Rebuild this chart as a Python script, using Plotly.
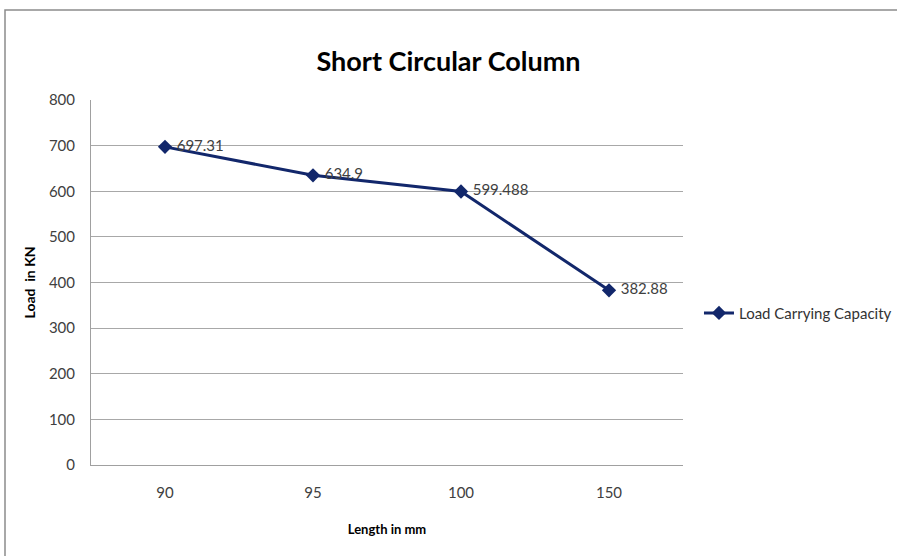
import plotly.graph_objects as go

categories = ["90", "95", "100", "150"]
load_values = [697.31, 634.9, 599.488, 382.88]
label_texts = ["697.31", "634.9", "599.488", "382.88"]
y_ticks = [0, 100, 200, 300, 400, 500, 600, 700, 800]

navy = "#12276B"
font_family = "Lato, 'Open Sans', 'DejaVu Sans', sans-serif"

fig = go.Figure()
fig.add_trace(go.Scatter(
    x=categories, y=load_values, mode="lines+markers+text",
    name="Load Carrying Capacity",
    text=label_texts, texttemplate=" %{text}", textposition="middle right",
    textfont=dict(size=15, color="#404040", family=font_family),
    line=dict(color=navy, width=3),
    marker=dict(symbol="diamond", size=11, color=navy),
))

# plot area sits at x 91..683, y 100..465
fig.update_layout(
    width=897, height=556,
    margin=dict(l=91, r=214, t=100, b=91, autoexpand=False),
    paper_bgcolor="white", plot_bgcolor="white",
    title=dict(text="<b>Short Circular Column</b>", x=0.5, xanchor="center",
               y=1 - 62 / 556, yanchor="middle",
               font=dict(size=27, color="black", family=font_family)),
    font=dict(family=font_family, size=15, color="#404040"),
    showlegend=True,
    legend=dict(x=1.027, y=0.416, xanchor="left", yanchor="middle",
                font=dict(size=15, color="#333333"), bgcolor="rgba(0,0,0,0)"),
    xaxis=dict(type="category", range=[-0.5, 3.5], showgrid=False,
               showline=True, linecolor="#A0A0A0", linewidth=1,
               ticks="", ticklabelstandoff=14, automargin=False,
               tickfont=dict(size=15, color="#404040"),
               title=dict(text="<b>Length in mm</b>", standoff=24,
                          font=dict(size=13, color="black"))),
    yaxis=dict(range=[0, 800], tickvals=y_ticks, showgrid=True,
               gridcolor="#A8A8A8", gridwidth=1, zeroline=False,
               showline=True, linecolor="#A0A0A0", linewidth=1,
               ticks="", ticklabelstandoff=12, automargin=False,
               tickfont=dict(size=15, color="#404040"),
               title=dict(text="<b>Load  in KN</b>", standoff=9,
                          font=dict(size=14, color="black"))),
)

fig.add_shape(type="rect", xref="paper", yref="paper",
              x0=-86 / 592, x1=920 / 592, y0=-120 / 365, y1=(465 - 10) / 365,
              line=dict(color="#8C8C8C", width=1.5), fillcolor="rgba(0,0,0,0)",
              layer="below")

fig.write_html("out.html",
               config={"displayModeBar": False},
               post_script="document.body.style.margin='0';")
